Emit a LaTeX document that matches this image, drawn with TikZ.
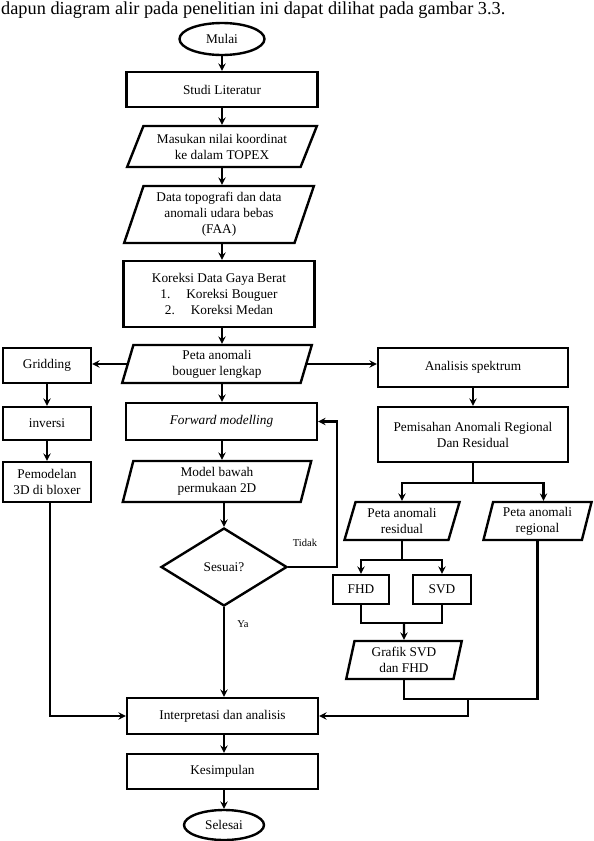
\documentclass[tikz,border=0pt]{standalone}
\usepackage{fontspec}
\setmainfont{Liberation Serif}
\usepackage{tikz}
\usetikzlibrary{arrows,shapes,positioning}
\tikzstyle{arrow} = [line width=2.2pt,->,>=stealth]
\tikzstyle{line} = [line width=2.2pt]
\tikzstyle{process} = [rectangle, draw, line width=2.4pt, text centered, align=center, inner sep=0pt, font=\fontsize{13.3}{16}\selectfont]
\tikzstyle{dataio} = [trapezium, trapezium stretches=true, draw, line width=2.4pt, text centered, align=center, inner sep=0pt, font=\fontsize{13.3}{16}\selectfont]
\tikzstyle{terminal} = [ellipse, draw, line width=2.4pt, inner sep=0pt, font=\fontsize{13.3}{16}\selectfont]
\tikzstyle{decision} = [diamond, draw, line width=2.4pt, inner sep=0pt, aspect=1.6, font=\fontsize{13.3}{16}\selectfont]
\tikzstyle{answer} = [font=\fontsize{10.5}{12}\selectfont]

\begin{document}
\begin{tikzpicture}[x=1pt, y=-1pt]
\useasboundingbox (0,0) rectangle (594,841);

% Caption line
\node[anchor=west, inner sep=0pt, font=\fontsize{18.3}{21}\selectfont] (caption) at (1,10) {dapun diagram alir pada penelitian ini dapat dilihat pada gambar 3.3.};

% Main column
\node[terminal, minimum width=85, minimum height=32] (mulai) at (222,39) {Mulai};
\node[process, minimum width=191, minimum height=35] (studi) at (222,89.5) {Studi Literatur};
\node[dataio, trapezium left angle=62, trapezium right angle=118, minimum width=190, minimum height=41] (masukan) at (222,146.5) {Masukan nilai koordinat\\ke dalam TOPEX};
\node[dataio, trapezium left angle=70, trapezium right angle=110, minimum width=190, minimum height=57] (topo) at (219,214.5) {Data topografi dan data\\anomali udara bebas\\(FAA)};
\node[process, minimum width=191, minimum height=66] (koreksi) at (219,294) {Koreksi Data Gaya Berat\\1.\hspace{1.2em}Koreksi Bouguer\\2.\hspace{1.2em}Koreksi Medan};
\node[dataio, trapezium left angle=78, trapezium right angle=102, minimum width=190, minimum height=38] (peta) at (217,364) {Peta anomali\\bouguer lengkap};
\node[process, minimum width=191, minimum height=37] (forward) at (221.5,421.5) {\textit{Forward modelling}};
\node[dataio, trapezium left angle=80, trapezium right angle=100, minimum width=190, minimum height=41] (model) at (217,481.5) {Model bawah\\permukaan 2D};
\node[decision, minimum width=126, minimum height=78] (sesuai) at (224,567) {Sesuai?};
\node[process, minimum width=191, minimum height=36] (interp) at (222.5,716) {Interpretasi dan analisis};
\node[process, minimum width=191, minimum height=35] (kesimpulan) at (222.5,771.5) {Kesimpulan};
\node[terminal, minimum width=80, minimum height=30] (selesai) at (224,825) {Selesai};

% Left column
\node[process, minimum width=88, minimum height=35] (gridding) at (47,365.5) {Gridding};
\node[process, minimum width=88, minimum height=33] (inversi) at (47,423.5) {inversi};
\node[process, minimum width=88, minimum height=40] (pemodelan) at (47,482) {Pemodelan\\3D di bloxer};

% Right column
\node[process, minimum width=190, minimum height=39] (analisis) at (473,367.5) {Analisis spektrum};
\node[process, minimum width=190, minimum height=55] (pemisahan) at (473,434.5) {Pemisahan Anomali Regional\\Dan Residual};
\node[dataio, trapezium left angle=72, trapezium right angle=108, minimum width=116, minimum height=38] (residual) at (402,521) {Peta anomali\\residual};
\node[dataio, trapezium left angle=75, trapezium right angle=105, minimum width=109, minimum height=38] (regional) at (537.5,521) {Peta anomali\\regional};
\node[process, minimum width=56, minimum height=29] (fhd) at (361,589.5) {FHD};
\node[process, minimum width=58, minimum height=29] (svd) at (442,589.5) {SVD};
\node[dataio, trapezium left angle=78, trapezium right angle=102, minimum width=116, minimum height=38] (grafik) at (404,660) {Grafik SVD\\dan FHD};

% Labels
\node[answer] (tidak) at (305,543) {Tidak};
\node[answer] (ya) at (243,624) {Ya};

% Arrows, main column
\draw[arrow] (mulai.south) -- (mulai.south |- studi.north);
\draw[arrow] (studi.south) -- (studi.south |- masukan.north);
\draw[arrow] (masukan.south) -- (masukan.south |- topo.north);
\draw[arrow] (topo.south -| masukan.south) -- (masukan.south |- koreksi.north);
\draw[arrow] (koreksi.south -| masukan.south) -- (masukan.south |- peta.north);
\draw[arrow] (peta.south -| masukan.south) -- (masukan.south |- forward.north);
\draw[arrow] (forward.south -| masukan.south) -- (masukan.south |- model.north);
\draw[arrow] (model.south -| sesuai.north) -- (sesuai.north);
\draw[arrow] (sesuai.south) -- (sesuai.south |- interp.north);
\draw[arrow] (interp.south -| sesuai.south) -- (sesuai.south |- kesimpulan.north);
\draw[arrow] (kesimpulan.south -| sesuai.south) -- (selesai.north);

% Loop back
\draw[arrow] (sesuai.east) -- ++(49,0) |- (forward.east);

% Left branch
\draw[arrow] (peta.west) -- (peta.west -| gridding.east);
\draw[arrow] (gridding.south) -- (inversi.north);
\draw[arrow] (inversi.south) -- (pemodelan.north);
\draw[arrow] ([xshift=3pt]pemodelan.south) |- (interp.west);

% Right branch
\draw[arrow] (peta.east) -- (peta.east -| analisis.west);
\draw[arrow] (analisis.south) -- (pemisahan.north);
\draw[line] (pemisahan.south) -- ++(0,20) coordinate (split);
\draw[arrow] (split) -| (residual.north);
\draw[arrow] (split) -| ([xshift=6pt]regional.north);
\draw[line] (residual.south) -- ++(0,19) coordinate (fork);
\draw[arrow] (fork) -| (fhd.north);
\draw[arrow] (fork) -| (svd.north);
\coordinate (merge) at (404,623);
\draw[line] (fhd.south) |- (merge) -| (svd.south);
\draw[arrow] (merge) -- (grafik.north);
\coordinate (join) at (468,699);
\draw[line] (grafik.south) |- (join);
\draw[line] (regional.south) |- (join);
\draw[arrow] (join) |- (interp.east);
\end{tikzpicture}
\end{document}
